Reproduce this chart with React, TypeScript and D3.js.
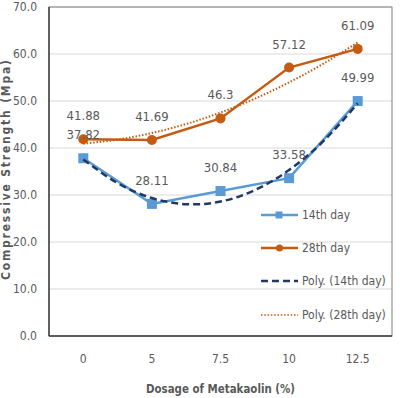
import React from 'react';
import * as d3 from 'd3';

// chart values
const categories = ['0', '5', '7.5', '10', '12.5'];
const day14 = [37.82, 28.11, 30.84, 33.58, 49.99];
const day28 = [41.88, 41.69, 46.3, 57.12, 61.09];
const day14Labels = ['37.82', '28.11', '30.84', '33.58', '49.99'];
const day28Labels = ['41.88', '41.69', '46.3', '57.12', '61.09'];
// polynomial trendlines, sampled every half category
const trendIdx = [0, 0.5, 1, 1.5, 2, 2.5, 3, 3.5, 4];
const poly14 = [37.57, 32.53, 29.36, 28.05, 28.6, 31.03, 35.32, 41.47, 49.49];
const poly28 = [40.92, 41.8, 43.19, 45.11, 47.54, 50.49, 53.96, 57.95, 62.46];
const yTicks = [0, 10, 20, 30, 40, 50, 60, 70];
const legendNames = ['14th day', '28th day', 'Poly. (14th day)', 'Poly. (28th day)'];

const W = 400;
const H = 398;
const left = 49, right = 392, top = 7, bottom = 336;

const blue = '#5B9BD5';
const orange = '#C55A11';
const navy = '#203864';
const gray = '#595959';
const font = "'Liberation Sans Narrow', 'DejaVu Sans Condensed', 'Open Sans', sans-serif";

export default function App() {
  const x = d3.scaleLinear().domain([-0.5, 4.5]).range([left, right]);
  const y = d3.scaleLinear().domain([0, 70]).range([bottom, top]);

  const line = d3.line<number>().x((d, i) => x(i)).y(d => y(d));
  const trend = d3.line<number>().x((d, i) => x(trendIdx[i])).y(d => y(d)).curve(d3.curveNatural);

  const legendY = [215, 248, 281, 315];

  return (
    <svg width={W} height={H} style={{ position: 'absolute', left: 0, top: 0 }} fontFamily={font}>
      <rect x={0} y={0} width={W} height={H} fill="#fff" />
      {/* gridlines */}
      {yTicks.map(t => (
        <line key={t} x1={left} x2={right} y1={y(t)} y2={y(t)} stroke="#d9d9d9" strokeWidth={1} />
      ))}
      <rect x={left} y={top} width={right - left} height={bottom - top} fill="none" stroke="#7f7f7f" strokeWidth={1} />
      <line x1={left} x2={left} y1={top} y2={bottom} stroke="#404040" strokeWidth={1.5} />
      <line x1={left} x2={right} y1={bottom} y2={bottom} stroke="#404040" strokeWidth={1.5} />

      {/* y ticks */}
      {yTicks.map(t => (
        <text key={t} x={37} y={y(t) + 4} textAnchor="end" fontSize={12} fill={gray}>{t.toFixed(1)}</text>
      ))}
      {/* x ticks */}
      {categories.map((c, i) => (
        <text key={c} x={x(i)} y={363} textAnchor="middle" fontSize={12} fill={gray}>{c}</text>
      ))}

      <text x={(left + right) / 2} y={393} textAnchor="middle" fontSize={13} fontWeight="bold" fill={gray}
        textLength={149} lengthAdjust="spacingAndGlyphs">Dosage of Metakaolin (%)</text>
      <text transform={`translate(10,170) rotate(-90)`} textAnchor="middle" fontSize={12} fontWeight="bold" fill={gray}
        textLength={220} lengthAdjust="spacing">Compressive Strength (Mpa)</text>

      {/* series */}
      <path d={line(day28) || ''} fill="none" stroke={orange} strokeWidth={2.5} />
      {day28.map((v, i) => (
        <circle key={i} cx={x(i)} cy={y(v)} r={5} fill={orange} />
      ))}
      <path d={line(day14) || ''} fill="none" stroke={blue} strokeWidth={2.5} />
      {day14.map((v, i) => (
        <rect key={i} x={x(i) - 5} y={y(v) - 5} width={10} height={10} fill={blue} />
      ))}
      <path d={trend(poly14) || ''} fill="none" stroke={navy} strokeWidth={2.5} strokeDasharray="7,4" />
      <path d={trend(poly28) || ''} fill="none" stroke={orange} strokeWidth={2} strokeDasharray="1.5,1.8" />

      {/* data labels */}
      {day28.map((v, i) => (
        <text key={i} x={x(i)} y={y(v) - 19} textAnchor="middle" fontSize={13} fill={gray}>{day28Labels[i]}</text>
      ))}
      {day14.map((v, i) => (
        <text key={i} x={x(i)} y={y(v) - 19} textAnchor="middle" fontSize={13} fill={gray}>{day14Labels[i]}</text>
      ))}

      {/* legend */}
      {legendNames.map((n, i) => (
        <g key={n}>
          {i === 0 && <>
            <line x1={261} x2={298} y1={legendY[i]} y2={legendY[i]} stroke={blue} strokeWidth={2.5} />
            <rect x={275.5} y={legendY[i] - 3.5} width={7} height={7} fill={blue} />
          </>}
          {i === 1 && <>
            <line x1={261} x2={298} y1={legendY[i]} y2={legendY[i]} stroke={orange} strokeWidth={2.5} />
            <circle cx={279.5} cy={legendY[i]} r={3.5} fill={orange} />
          </>}
          {i === 2 && <line x1={261} x2={298} y1={legendY[i]} y2={legendY[i]} stroke={navy} strokeWidth={2.5} strokeDasharray="7,4" />}
          {i === 3 && <line x1={261} x2={298} y1={legendY[i]} y2={legendY[i]} stroke={orange} strokeWidth={1.5} strokeDasharray="1.5,1.8" />}
          <text x={302} y={legendY[i] + 4} fontSize={12} fill={gray}>{n}</text>
        </g>
      ))}
    </svg>
  );
}
